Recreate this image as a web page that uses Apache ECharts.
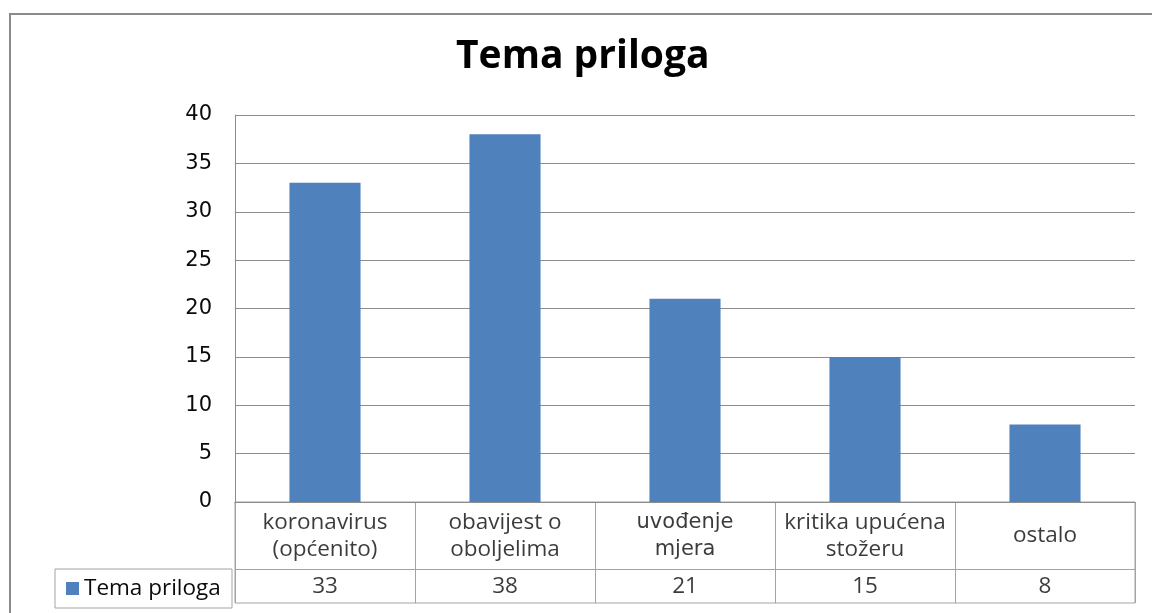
<!DOCTYPE html>
<html>
<head>
<meta charset="utf-8">
<script src="https://cdn.jsdelivr.net/npm/echarts@6/dist/echarts.min.js"></script>
<style>
html,body{margin:0;padding:0;background:#fff;}
#chart{width:1152px;height:613px;}
</style>
</head>
<body>
<div id="chart"></div>
<script>
const title = 'Tema priloga';
const seriesName = 'Tema priloga';
const categories = ['koronavirus\n(općenito)', 'obavijest o\noboljelima', 'uvođenje\nmjera', 'kritika upućena\nstožeru', 'ostalo'];
const values = [33, 38, 21, 15, 8];
const yTicks = { min: 0, max: 40, interval: 5 };

const chart = echarts.init(document.getElementById('chart'));
const tableLine = '#a3a3a3';
const gridLine = '#8c8c8c';
const textColor = '#0a0a0a';

const catCells = categories.map((c, i) => {
  const item = { value: [i, 2], label: { formatter: c } };
  if (c.startsWith('uvođenje')) {
    item.label.fontFamily = 'DejaVu Sans';
    item.label.fontSize = 21;
  }
  return item;
});
const valCells = values.map((v, i) => ({ value: [i, 0.5], label: { formatter: String(v) } }));

chart.setOption({
  animation: false,
  backgroundColor: '#fff',
  title: {
    text: title,
    left: 456,
    top: 37,
    padding: 0,
    textStyle: { fontFamily: 'Open Sans', fontWeight: 'bold', fontSize: 39, color: '#000' }
  },
  legend: {
    data: [seriesName],
    left: 55,
    top: 569,
    orient: 'horizontal',
    icon: 'rect',
    itemWidth: 13,
    itemHeight: 13,
    padding: [8, 6, 8, 11],
    borderColor: tableLine,
    borderWidth: 1,
    selectedMode: false,
    textStyle: { fontFamily: 'Open Sans', fontSize: 22.5, color: textColor, width: 142, lineHeight: 20, overflow: 'none' }
  },
  graphic: [{
    type: 'rect',
    shape: { x: 10, y: 14, width: 1400, height: 800 },
    style: { fill: 'none', stroke: '#8a8a8a', lineWidth: 2 },
    silent: true
  }],
  grid: [
    { left: 235, top: 115, width: 900, height: 387 },
    { left: 235, top: 502, width: 900, height: 101, show: true, borderColor: tableLine, borderWidth: 1 }
  ],
  xAxis: [
    { gridIndex: 0, type: 'category', data: categories, axisLabel: { show: false }, axisTick: { show: false },
      axisLine: { show: true, lineStyle: { color: gridLine } } },
    { gridIndex: 1, type: 'category', data: categories, boundaryGap: true, axisLabel: { show: false }, axisTick: { show: false },
      axisLine: { show: false }, splitLine: { show: true, interval: 0, lineStyle: { color: tableLine, width: 1 } } }
  ],
  yAxis: [
    { gridIndex: 0, type: 'value', min: yTicks.min, max: yTicks.max, interval: yTicks.interval,
      axisLine: { show: true, lineStyle: { color: gridLine } }, axisTick: { show: false },
      splitLine: { show: true, lineStyle: { color: gridLine, width: 1 } },
      axisLabel: { margin: 23, fontFamily: 'DejaVu Sans', fontSize: 21, color: textColor } },
    { gridIndex: 1, type: 'value', min: 0, max: 3, interval: 1, show: false }
  ],
  series: [
    {
      name: seriesName, type: 'bar', xAxisIndex: 0, yAxisIndex: 0, data: values,
      barWidth: '39.5%', itemStyle: { color: '#4F81BD' }
    },
    {
      name: 'categories', type: 'scatter', xAxisIndex: 1, yAxisIndex: 1, data: catCells,
      symbol: 'circle', symbolSize: 1, itemStyle: { color: 'transparent' }, silent: true,
      label: { show: true, position: 'inside', fontFamily: 'Open Sans', fontSize: 22.5, lineHeight: 27, color: textColor, align: 'center', verticalAlign: 'middle' },
      markLine: { silent: true, symbol: 'none', label: { show: false }, lineStyle: { color: tableLine, type: 'solid', width: 1 }, data: [{ yAxis: 1 }] }
    },
    {
      name: 'values', type: 'scatter', xAxisIndex: 1, yAxisIndex: 1, data: valCells,
      symbol: 'circle', symbolSize: 1, itemStyle: { color: 'transparent' }, silent: true,
      label: { show: true, position: 'inside', fontFamily: 'Open Sans', fontSize: 22.5, color: textColor, align: 'center', verticalAlign: 'middle' }
    }
  ]
});
</script>
</body>
</html>
